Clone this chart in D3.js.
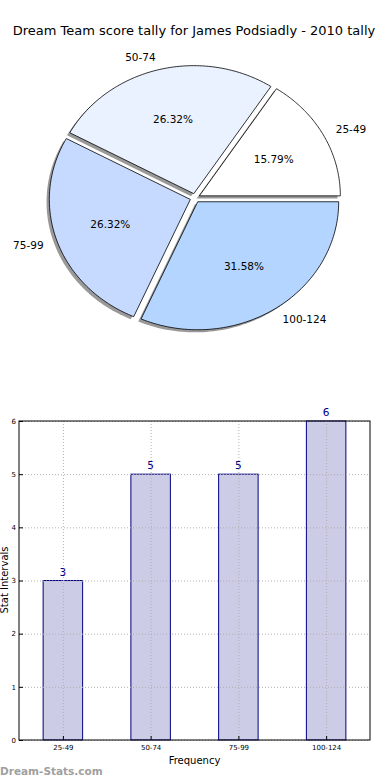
<!DOCTYPE html>
<html>
<head>
<meta charset="utf-8">
<script src="https://cdn.jsdelivr.net/npm/d3@7"></script>
<style>
  body { margin: 0; background: #fff; }
  svg { display: block; font-family: "DejaVu Sans", sans-serif; }
</style>
</head>
<body>
<svg id="chart" width="390" height="780"></svg>
<script>
// data
const categories = ["25-49", "50-74", "75-99", "100-124"];
const counts = [3, 5, 5, 6];
const sliceColors = ["#ffffff", "#eaf2ff", "#c6d9ff", "#b3d5ff"];
const yTicks = [0, 1, 2, 3, 4, 5, 6];

const svg = d3.select("#chart");

// title
svg.append("text")
    .attr("x", 194).attr("y", 35)
    .attr("text-anchor", "middle")
    .attr("font-size", 13)
    .text("Dream Team score tally for James Podsiadly - 2010 tally");

// ---- pie ----
const cx = 195, cy = 198, rx = 141, ry = 128;
const explode = 0.035;
const total = d3.sum(counts);

// matplotlib style: start at 0 deg (east), counterclockwise
const angle = d3.scaleLinear().domain([0, total]).range([0, 2 * Math.PI]);
let acc = 0;
const slices = counts.map((c, i) => {
    const s = { i, a0: angle(acc), a1: angle(acc + c), pct: c / total * 100 };
    acc += c;
    s.mid = (s.a0 + s.a1) / 2;
    s.ox = cx + explode * rx * Math.cos(s.mid);
    s.oy = cy - explode * ry * Math.sin(s.mid);
    return s;
});

function slicePath(s, dx, dy) {
    const pts = [[s.ox + dx, s.oy + dy]];
    const n = 80;
    for (let k = 0; k <= n; k++) {
        const a = s.a0 + (s.a1 - s.a0) * k / n;
        pts.push([s.ox + dx + rx * Math.cos(a), s.oy + dy - ry * Math.sin(a)]);
    }
    return d3.line()(pts) + "Z";
}

// shadows
svg.append("g").selectAll("path").data(slices).join("path")
    .attr("d", s => slicePath(s, -2.8, 2.6))
    .attr("fill", "#000").attr("opacity", 0.4);

svg.append("g").selectAll("path").data(slices).join("path")
    .attr("d", s => slicePath(s, 0, 0))
    .attr("fill", s => sliceColors[s.i])
    .attr("stroke", "#000").attr("stroke-width", 0.8)
    .attr("stroke-linejoin", "round");

// category labels at 1.1 radius
svg.append("g").selectAll("text").data(slices).join("text")
    .attr("x", s => s.ox + 1.1 * rx * Math.cos(s.mid))
    .attr("y", s => s.oy - 1.1 * ry * Math.sin(s.mid))
    .attr("dy", "0.35em")
    .attr("font-size", 10.5)
    .attr("text-anchor", s => Math.cos(s.mid) > 0 ? "start" : "end")
    .text(s => categories[s.i]);

// percentages at 0.6 radius
svg.append("g").selectAll("text").data(slices).join("text")
    .attr("x", s => s.ox + 0.6 * rx * Math.cos(s.mid))
    .attr("y", s => s.oy - 0.6 * ry * Math.sin(s.mid))
    .attr("dy", "0.35em")
    .attr("font-size", 10.5)
    .attr("text-anchor", "middle")
    .text(s => s.pct.toFixed(2) + "%");

// ---- bar chart ----
const bx0 = 19, bx1 = 370, by0 = 421, by1 = 740;
const x = d3.scaleLinear().domain([-0.5, 3.5]).range([bx0, bx1]);
const y = d3.scaleLinear().domain([0, 6]).range([by1, by0]);
const barW = 0.45;

const bars = svg.append("g");
bars.selectAll("rect").data(counts).join("rect")
    .attr("x", (d, i) => x(i - barW / 2))
    .attr("width", x(barW) - x(0))
    .attr("y", d => y(d))
    .attr("height", d => y(0) - y(d))
    .attr("fill", "#ccccE6")
    .attr("stroke", "#000080").attr("stroke-width", 1);

// grid (dotted, above bars)
const grid = svg.append("g").attr("stroke", "#b0b0b0").attr("stroke-dasharray", "1,2").attr("stroke-width", 1);
grid.selectAll("line.h").data(yTicks).join("line")
    .attr("x1", bx0).attr("x2", bx1)
    .attr("y1", d => y(d) + 0.5).attr("y2", d => y(d) + 0.5);
grid.selectAll("line.v").data(categories).join("line")
    .attr("x1", (d, i) => x(i) + 0.5).attr("x2", (d, i) => x(i) + 0.5)
    .attr("y1", by0).attr("y2", by1);

// value labels
svg.append("g").selectAll("text").data(counts).join("text")
    .attr("x", (d, i) => x(i))
    .attr("y", d => y(d) - 5)
    .attr("text-anchor", "middle")
    .attr("font-size", 10.5)
    .attr("fill", "#000080")
    .text(d => d);

// frame
svg.append("rect")
    .attr("x", bx0).attr("y", by0)
    .attr("width", bx1 - bx0).attr("height", by1 - by0)
    .attr("fill", "none").attr("stroke", "#000").attr("stroke-width", 1);

// axes
const yAxis = svg.append("g")
    .attr("transform", `translate(${bx0},0)`)
    .call(d3.axisLeft(y).tickValues(yTicks).tickSize(-4).tickPadding(3).tickFormat(d3.format("d")));
const xAxis = svg.append("g")
    .attr("transform", `translate(0,${by1})`)
    .call(d3.axisBottom(x).tickValues([0, 1, 2, 3]).tickSize(-4).tickPadding(5).tickFormat(i => categories[i]));
[yAxis, xAxis].forEach(a => {
    a.select(".domain").remove();
    a.selectAll("text").attr("font-size", 7).attr("font-family", "DejaVu Sans, sans-serif");
});

svg.append("text")
    .attr("x", x(1.5)).attr("y", 764)
    .attr("text-anchor", "middle")
    .attr("font-size", 10)
    .text("Frequency");

svg.append("text")
    .attr("transform", "translate(8,580) rotate(-90)")
    .attr("text-anchor", "middle")
    .attr("font-size", 10)
    .text("Stat Intervals");

svg.append("text")
    .attr("x", 0).attr("y", 775)
    .attr("font-size", 10.5)
    .attr("font-weight", "bold")
    .attr("fill", "#a0a0a0")
    .text("Dream-Stats.com");
</script>
</body>
</html>
